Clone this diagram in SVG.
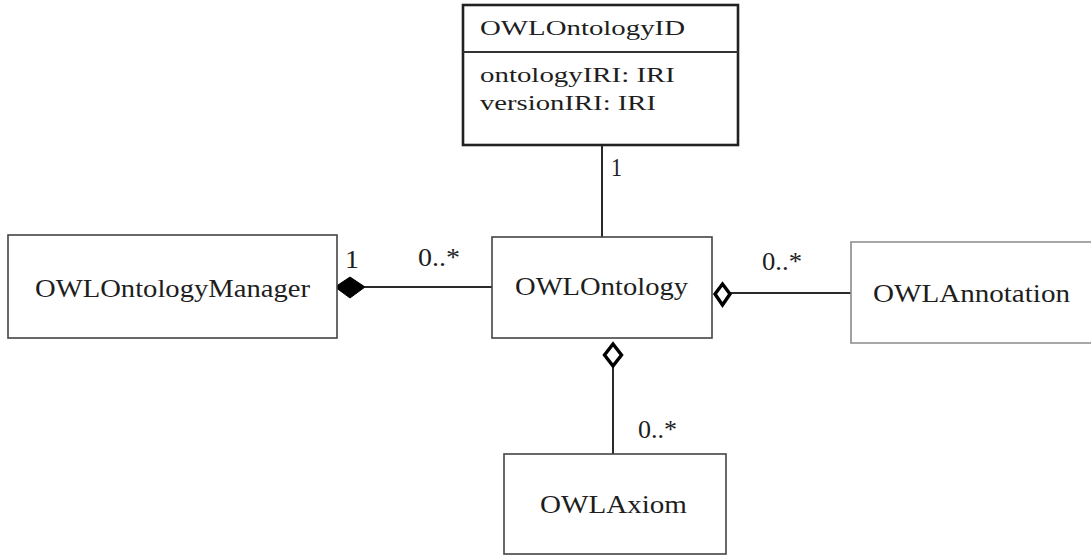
<svg xmlns="http://www.w3.org/2000/svg" width="1091" height="556" viewBox="0 0 1091 556">
<style>
  .box { fill: #ffffff; stroke: #444444; stroke-width: 1.6; }
  .idbox { fill: #ffffff; stroke: #222222; stroke-width: 2.6; }
  .lbl { font-family: "Liberation Serif", "Times New Roman", serif; fill: #1e1e1e; font-size: 25px; }
  .small { font-family: "Liberation Serif", "Times New Roman", serif; fill: #1e1e1e; font-size: 20px; }
  .mult { font-family: "Liberation Serif", "Times New Roman", serif; fill: #1e1e1e; font-size: 25px; }
  .edge { stroke: #2a2a2a; stroke-width: 2; fill: none; }
</style>
<rect x="0" y="0" width="1091" height="556" fill="#ffffff"/>
<g id="connectors">
  <line class="edge" x1="602" y1="145" x2="602" y2="237"/>
  <line class="edge" x1="365" y1="287" x2="492" y2="287"/>
  <path d="M335,287 L350,277 L365,287 L350,298 Z" fill="#000000" stroke="#000000" stroke-width="1"/>
  <line class="edge" x1="730" y1="293" x2="851" y2="293"/>
  <path d="M715,294 L722.5,284 L730,294 L722.5,305 Z" fill="#ffffff" stroke="#000000" stroke-width="3.4"/>
  <line class="edge" x1="613" y1="367" x2="613" y2="454"/>
  <path d="M613,344 L621.5,355 L613,366 L604.5,355 Z" fill="#ffffff" stroke="#000000" stroke-width="3.4"/>
  <text class="mult" x="611" y="176" textLength="11" lengthAdjust="spacingAndGlyphs">1</text>
  <text class="mult" x="345" y="268" textLength="14" lengthAdjust="spacingAndGlyphs">1</text>
  <text class="mult" x="418" y="266" textLength="42" lengthAdjust="spacingAndGlyphs">0..*</text>
  <text class="mult" x="762" y="270" textLength="40" lengthAdjust="spacingAndGlyphs">0..*</text>
  <text class="mult" x="638" y="438" textLength="39" lengthAdjust="spacingAndGlyphs">0..*</text>
</g>
<g id="OWLOntologyID">
  <rect class="idbox" x="463" y="5" width="275" height="140"/>
  <line x1="463" y1="52" x2="738" y2="52" stroke="#333333" stroke-width="2"/>
  <text class="small" x="480" y="35" textLength="205" lengthAdjust="spacingAndGlyphs">OWLOntologyID</text>
  <text class="small" x="480" y="82" textLength="195" lengthAdjust="spacingAndGlyphs">ontologyIRI: IRI</text>
  <text class="small" x="480" y="110" textLength="176" lengthAdjust="spacingAndGlyphs">versionIRI: IRI</text>
</g>
<g id="OWLOntologyManager">
  <rect class="box" x="8" y="235" width="329" height="103" stroke="#555555"/>
  <text class="lbl" x="35" y="297" textLength="275" lengthAdjust="spacingAndGlyphs">OWLOntologyManager</text>
</g>
<g id="OWLOntology">
  <rect class="box" x="492" y="237" width="220" height="101"/>
  <text class="lbl" x="515" y="295" textLength="173" lengthAdjust="spacingAndGlyphs">OWLOntology</text>
</g>
<g id="OWLAnnotation">
  <path d="M1095,242 L851,242 L851,343 L1095,343" fill="#ffffff" stroke="#8a8a8a" stroke-width="1.6"/>
  <text class="lbl" x="873" y="302" textLength="197" lengthAdjust="spacingAndGlyphs">OWLAnnotation</text>
</g>
<g id="OWLAxiom">
  <rect class="box" x="504" y="454" width="222" height="100"/>
  <text class="lbl" x="540" y="513" textLength="147" lengthAdjust="spacingAndGlyphs">OWLAxiom</text>
</g>
</svg>
